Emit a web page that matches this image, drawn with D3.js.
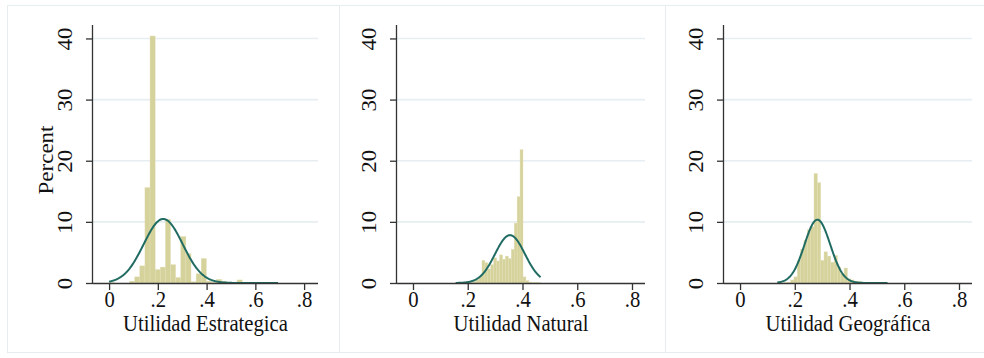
<!DOCTYPE html>
<html>
<head>
<meta charset="utf-8">
<script src="https://cdn.jsdelivr.net/npm/d3@7"></script>
<style>
  body { margin: 0; background: #fff; }
  text { font-family: "Liberation Serif", "Times New Roman", serif; fill: #111; }
</style>
</head>
<body>
<svg id="chart" width="984" height="358"></svg>
<script>
// tick values and labels (shared by the three panels)
const xTicks = [0, 0.2, 0.4, 0.6, 0.8];
const xTickLabels = ["0", ".2", ".4", ".6", ".8"];
const yTicks = [0, 10, 20, 30, 40];
const yTickLabels = ["0", "10", "20", "30", "40"];
const titles = ["Utilidad Estrategica", "Utilidad Natural", "Utilidad Geográfica"];

const estrategicaPct = [0.05, 0, 0, 0, 0.3, 1.0, 2.8, 15.6, 40.4, 2.2, 2.6, 10.4, 3.0, 0.9, 7.6, 4.8,
  0.2, 1.5, 4.0, 0.3, 0.1, 0.6, 0.3, 0.1, 0.1, 0.5, 0.1, 0, 0, 0, 0, 0, 0.05];
const naturalPct = [0, 0, 0, 0, 0.05, 0.1, 0.25, 0.5, 1.1, 3.7, 3.3, 2.3, 3.0, 4.1, 3.6, 4.6,
  3.9, 4.4, 4.0, 5.5, 9.8, 14.1, 21.8, 1.0, 0.4, 0.15, 0.05, 0.05, 0.05];
const geograficaPct = [0, 0, 0.05, 0.1, 0.5, 1.0, 3.7, 5.5, 7.0, 8.7, 9.2, 17.9, 16.4, 3.7, 5.1, 4.4,
  3.4, 4.5, 2.6, 1.5, 2.45, 0.7, 0.5, 0.3, 0.3, 0.1, 0.1, 0.05, 0, 0, 0, 0, 0.05];

// bin layout and fitted normal for each variable
const binStart = [0, 0.1557, 0.1361];
const binWidth = [0.021, 0.0107, 0.0122];
const normMean = [0.222, 0.3543, 0.2826];
const normSd = [0.08, 0.0545, 0.047];

const series = [estrategicaPct, naturalPct, geograficaPct];

const svg = d3.select("#chart");
const barFill = "#d6d29c";
const curveColor = "#216c62";
const gridColor = "#e6eef1";
const frameColor = "#e6edf0";
const fontSize = 23, squeeze = 0.9;   // the original text is narrow and tall

// panel frames
const frames = [[7, 339], [339, 665], [665, 995]];
frames.forEach(f => {
  svg.append("rect")
    .attr("x", f[0] + 0.5).attr("y", 5.5)
    .attr("width", f[1] - f[0]).attr("height", 347)
    .attr("fill", "#fff").attr("stroke", frameColor).attr("stroke-width", 1);
});

const plots = [
  {left: 93, right: 318, dom: [-0.066, 0.857]},
  {left: 397, right: 645, dom: [-0.0584, 0.8475]},
  {left: 724, right: 972, dom: [-0.0586, 0.8475]}
];
const plotTop = 25, plotBottom = 283;

plots.forEach((p, i) => {
  const x = d3.scaleLinear().domain(p.dom).range([p.left, p.right]);
  const y = d3.scaleLinear().domain([0, 42.2]).range([plotBottom, plotTop]);
  const g = svg.append("g");

  // gridlines
  g.selectAll(".grid").data(yTicks.filter(t => t > 0)).enter().append("line")
    .attr("x1", p.left).attr("x2", p.right)
    .attr("y1", d => y(d)).attr("y2", d => y(d))
    .attr("stroke", gridColor).attr("stroke-width", 1.6);

  // bars
  const bins = series[i].map((v, k) => ({x0: binStart[i] + k * binWidth[i], v}));
  g.selectAll(".bar").data(bins.filter(b => b.v > 0)).enter().append("rect")
    .attr("x", d => x(d.x0))
    .attr("width", d => x(d.x0 + binWidth[i]) - x(d.x0))
    .attr("y", d => y(d.v))
    .attr("height", d => plotBottom - y(d.v))
    .attr("fill", barFill)
    .attr("stroke", "#e2dfb6").attr("stroke-width", 0.4);

  // normal density scaled to percent per bin
  const lo = binStart[i], hi = binStart[i] + series[i].length * binWidth[i];
  const pts = d3.range(0, 201).map(j => {
    const u = lo + (hi - lo) * j / 200;
    const z = (u - normMean[i]) / normSd[i];
    return [u, 100 * binWidth[i] * Math.exp(-z * z / 2) / (normSd[i] * Math.sqrt(2 * Math.PI))];
  });
  g.append("path")
    .datum(pts)
    .attr("d", d3.line().x(d => x(d[0])).y(d => y(d[1])))
    .attr("fill", "none").attr("stroke", curveColor).attr("stroke-width", 2);

  // x axis
  const xAxis = g.append("g")
    .attr("transform", "translate(0," + plotBottom + ")")
    .call(d3.axisBottom(x).tickValues(xTicks).tickFormat((d, k) => xTickLabels[k]).tickSize(7));
  xAxis.select(".domain").attr("d", "M" + p.left + ",0.5H" + p.right).attr("stroke", "#333").attr("stroke-width", 1.3);
  xAxis.selectAll(".tick line").attr("stroke", "#333").attr("stroke-width", 1.3);
  xAxis.selectAll(".tick text")
    .attr("y", null).attr("dy", null)
    .attr("transform", "translate(0,24) scale(" + squeeze + ",1)")
    .attr("font-size", fontSize).attr("font-family", "Liberation Serif").attr("fill", "#111");

  // y axis
  const yAxis = g.append("g")
    .attr("transform", "translate(" + p.left + ",0)")
    .call(d3.axisLeft(y).tickValues(yTicks).tickFormat((d, k) => yTickLabels[k]).tickSize(7));
  yAxis.select(".domain").attr("d", "M-0.5," + plotTop + "V" + plotBottom).attr("stroke", "#333").attr("stroke-width", 1.3);
  yAxis.selectAll(".tick line").attr("stroke", "#333").attr("stroke-width", 1.3);
  yAxis.selectAll(".tick text")
    .attr("x", null).attr("dy", null)
    .attr("transform", "translate(-21,0) scale(" + squeeze + ",1) rotate(-90)")
    .attr("text-anchor", "middle")
    .attr("font-size", fontSize).attr("font-family", "Liberation Serif").attr("fill", "#111");

  // axis title
  g.append("text")
    .attr("transform", "translate(" + (p.left + p.right) / 2 + ",331) scale(" + squeeze + ",1)")
    .attr("text-anchor", "middle").attr("font-size", fontSize)
    .text(titles[i]);
});

svg.append("text")
  .attr("transform", "translate(53,160) scale(" + squeeze + ",1) rotate(-90)")
  .attr("text-anchor", "middle").attr("font-size", fontSize)
  .text("Percent");
</script>
</body>
</html>
